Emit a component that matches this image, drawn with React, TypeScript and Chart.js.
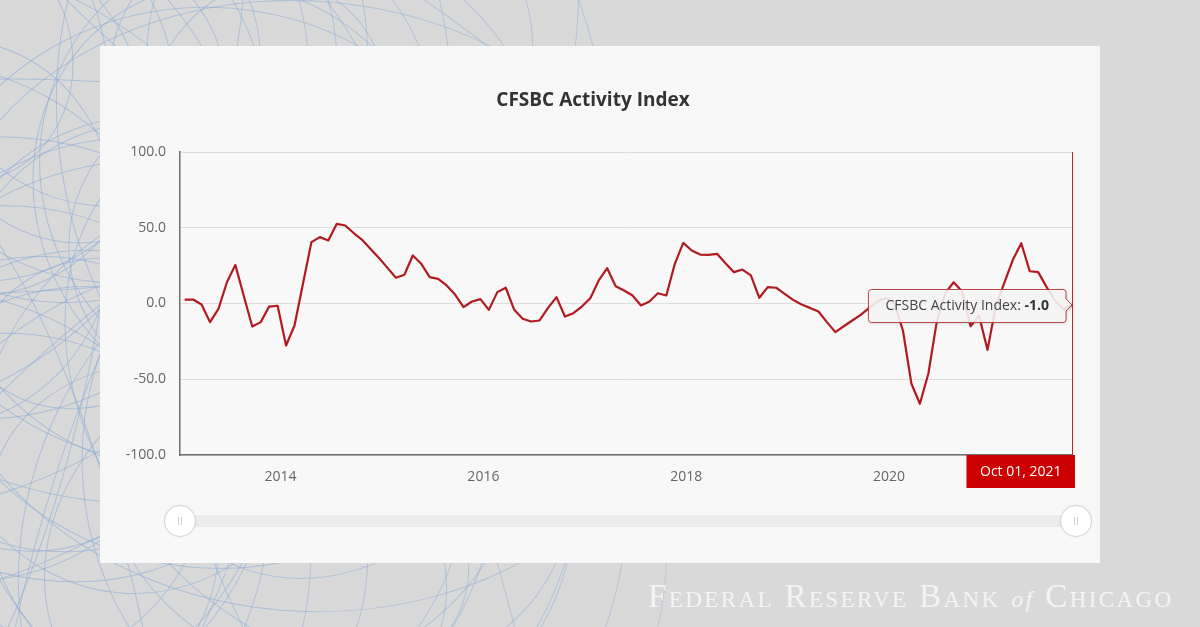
import React, { useEffect, useRef } from "react";
import { Chart, registerables } from "chart.js";

Chart.register(...registerables);

// Monthly CFSBC Activity Index, Jan 2013 through Oct 2021 (index 0 = Jan 2013)
const seriesName = "CFSBC Activity Index";
const activityIndex: number[] = [
  // 2013
  2.6, 2.6, -0.7, -12.3, -3.5, 14.0, 25.5, 5.0, -15.2, -12.3, -2.0, -1.5,
  // 2014
  -27.7, -14.5, 13.0, 40.5, 43.8, 41.6, 52.6, 51.5, 46.5, 42.0, 36.0, 30.0,
  // 2015
  23.5, 17.0, 19.0, 31.7, 26.2, 17.4, 16.3, 11.9, 5.9, -2.4, 1.3, 2.9,
  // 2016
  -4.2, 7.5, 10.4, -4.2, -10.1, -11.9, -11.2, -2.9, 4.2, -8.6, -6.4, -2.0,
  // 2017
  3.5, 15.2, 23.3, 11.4, 8.6, 5.3, -1.3, 1.3, 6.8, 5.3, 26.2, 40.0,
  // 2018
  35.0, 32.3, 32.1, 32.8, 26.6, 20.7, 22.4, 18.5, 3.8, 10.8, 10.4, 6.4,
  // 2019
  2.4, -0.7, -2.9, -5.3, -12.3, -18.9, -15.0, -11.2, -7.5, -2.9, 1.5, 3.5,
  // 2020
  0.0, -18.0, -53.0, -66.2, -46.4, -12.0, 6.8, 14.0, 8.0, -15.0, -8.0, -30.6,
  // 2021 (Jan - Oct)
  -1.3, 13.8, 28.8, 39.8, 21.3, 20.7, 10.8, 2.0, -4.0, -1.0,
];

// Year ticks sit on the January of each labelled year
const yearTickPositions = [12, 36, 60, 84];
const yearTickLabels = ["2014", "2016", "2018", "2020"];

const yAxisMin = -100;
const yAxisMax = 100;
const yAxisStep = 50;

const hoverDateLabel = "Oct 01, 2021";

const LINE_COLOR = "#b01a20";
const FONT = "'Open Sans', 'Noto Sans', sans-serif";
const TEXT_SIZE = 14;

// Crosshair, date flag and value callout for the most recent month
const lastPointCallout = {
  id: "lastPointCallout",
  beforeDatasetsDraw(chart: any) {
    const meta = chart.getDatasetMeta(0);
    const pt = meta.data[meta.data.length - 1];
    if (!pt) return;
    const { ctx, chartArea } = chart;
    const x = Math.round(pt.x) + 0.5;
    ctx.save();
    ctx.strokeStyle = "#c8232a";
    ctx.lineWidth = 1;
    ctx.beginPath();
    ctx.moveTo(x, chartArea.top);
    ctx.lineTo(x, chartArea.bottom);
    ctx.stroke();
    ctx.restore();
  },
  afterDraw(chart: any) {
    const meta = chart.getDatasetMeta(0);
    const idx = meta.data.length - 1;
    const pt = meta.data[idx];
    if (!pt) return;
    const { ctx, chartArea } = chart;
    const value = activityIndex[idx];
    ctx.save();

    // date flag under the axis
    ctx.font = `${TEXT_SIZE}px ${FONT}`;
    const dw = ctx.measureText(hoverDateLabel).width + 27;
    const dh = 33;
    const dRight = pt.x + 3;
    const dLeft = dRight - dw;
    const dTop = chartArea.bottom;
    ctx.fillStyle = "#cc0000";
    ctx.fillRect(dLeft, dTop, dw, dh);
    ctx.fillStyle = "#ffffff";
    ctx.textAlign = "center";
    ctx.textBaseline = "middle";
    ctx.fillText(hoverDateLabel, dLeft + dw / 2, dTop + dh / 2 + 1);

    // value callout to the left of the point
    const prefix = `${seriesName}: `;
    const valText = value.toFixed(1);
    ctx.font = `${TEXT_SIZE}px ${FONT}`;
    const w1 = ctx.measureText(prefix).width;
    ctx.font = `bold ${TEXT_SIZE}px ${FONT}`;
    const w2 = ctx.measureText(valText).width;
    const padX = 17;
    const bw = w1 + w2 + padX * 2;
    const bh = 33;
    const caret = 6;
    const right = pt.x - caret;
    const left = right - bw;
    const top = pt.y - bh / 2 + 1;
    const bottom = top + bh;
    const r = 3;
    const cy = pt.y;

    ctx.beginPath();
    ctx.moveTo(left + r, top);
    ctx.lineTo(right - r, top);
    ctx.arcTo(right, top, right, top + r, r);
    ctx.lineTo(right, cy - caret);
    ctx.lineTo(pt.x, cy);
    ctx.lineTo(right, cy + caret);
    ctx.lineTo(right, bottom - r);
    ctx.arcTo(right, bottom, right - r, bottom, r);
    ctx.lineTo(left + r, bottom);
    ctx.arcTo(left, bottom, left, bottom - r, r);
    ctx.lineTo(left, top + r);
    ctx.arcTo(left, top, left + r, top, r);
    ctx.closePath();

    ctx.shadowColor = "rgba(0,0,0,0.18)";
    ctx.shadowBlur = 3;
    ctx.shadowOffsetX = 1;
    ctx.shadowOffsetY = 1;
    ctx.fillStyle = "rgba(248,248,248,0.88)";
    ctx.fill();
    ctx.shadowColor = "transparent";
    ctx.strokeStyle = "#b8474a";
    ctx.lineWidth = 1;
    ctx.stroke();

    ctx.fillStyle = "#444444";
    ctx.textAlign = "left";
    ctx.textBaseline = "middle";
    ctx.font = `${TEXT_SIZE}px ${FONT}`;
    ctx.fillText(prefix, left + padX, cy + 1);
    ctx.fillStyle = "#333333";
    ctx.font = `bold ${TEXT_SIZE}px ${FONT}`;
    ctx.fillText(valText, left + padX + w1, cy + 1);
    ctx.restore();
  },
};

// Thin looping strokes of the page backdrop
function BackdropPattern() {
  const loops: React.ReactNode[] = [];
  for (let k = 0; k < 56; k++) {
    const cx = 140 + 200 * Math.cos(k * 0.73);
    const cy = 300 + 250 * Math.sin(k * 1.13);
    const rx = 130 + ((k * 61) % 320);
    const ry = 90 + ((k * 47) % 240);
    const rot = (k * 29) % 180;
    loops.push(
      <ellipse
        key={k}
        cx={cx}
        cy={cy}
        rx={rx}
        ry={ry}
        transform={`rotate(${rot} ${cx} ${cy})`}
        fill="none"
        stroke="rgba(130,165,215,0.5)"
        strokeWidth={1}
      />
    );
  }
  return (
    <svg
      width={1200}
      height={627}
      style={{ position: "absolute", left: 0, top: 0 }}
    >
      <defs>
        <linearGradient id="fadeRight" x1="0" y1="0" x2="1" y2="0">
          <stop offset="0" stopColor="#fff" stopOpacity="1" />
          <stop offset="0.5" stopColor="#fff" stopOpacity="0.8" />
          <stop offset="0.72" stopColor="#fff" stopOpacity="0" />
        </linearGradient>
        <mask id="fadeMask">
          <rect x="0" y="0" width="1200" height="627" fill="url(#fadeRight)" />
        </mask>
      </defs>
      <g mask="url(#fadeMask)">{loops}</g>
    </svg>
  );
}

export default function App() {
  const canvasRef = useRef<HTMLCanvasElement | null>(null);

  useEffect(() => {
    const canvas = canvasRef.current;
    if (!canvas) return;
    const chart = new Chart(canvas, {
      type: "line",
      data: {
        datasets: [
          {
            label: seriesName,
            data: activityIndex.map((v, i) => ({ x: i, y: v })),
            borderColor: LINE_COLOR,
            borderWidth: 2.2,
            pointRadius: 0,
            tension: 0,
            borderJoinStyle: "round",
            fill: false,
          },
        ],
      },
      options: {
        animation: false,
        responsive: false,
        devicePixelRatio: 1,
        layout: { padding: { left: 14, right: 28, top: 0, bottom: 0 } },
        plugins: {
          legend: { display: false },
          tooltip: { enabled: false },
          title: {
            display: true,
            text: seriesName,
            color: "#333333",
            font: { family: FONT, size: 19, weight: "bold", lineHeight: 1.2 },
            padding: { top: 43.6, bottom: 39.6 },
          },
        },
        scales: {
          x: {
            type: "linear",
            min: -0.55,
            max: activityIndex.length - 1,
            afterBuildTicks: (scale: any) => {
              scale.ticks = yearTickPositions.map((v) => ({ value: v }));
            },
            afterFit: (scale: any) => {
              scale.height = 108;
            },
            ticks: {
              autoSkip: false,
              maxRotation: 0,
              padding: 13.5,
              labelOffset: -5.5,
              color: "#666666",
              font: { family: FONT, size: TEXT_SIZE },
              callback: (v: any) => {
                const i = yearTickPositions.indexOf(Number(v));
                return i >= 0 ? yearTickLabels[i] : "";
              },
            },
            grid: { display: false, drawTicks: false },
            border: { display: true, color: "#6e6e6e", width: 1.5 },
          },
          y: {
            min: yAxisMin,
            max: yAxisMax,
            afterFit: (scale: any) => {
              scale.width = 66;
            },
            ticks: {
              stepSize: yAxisStep,
              padding: 14,
              color: "#666666",
              font: { family: FONT, size: TEXT_SIZE },
              callback: (v: any) => Number(v).toFixed(1),
            },
            grid: { color: "#dedede", lineWidth: 1, drawTicks: false },
            border: { display: true, color: "#6e6e6e", width: 1.5 },
          },
        },
      },
      plugins: [lastPointCallout],
    });
    return () => chart.destroy();
  }, []);

  const handle = (cx: number) => (
    <div
      style={{
        position: "absolute",
        left: cx - 16,
        top: 505,
        width: 30,
        height: 30,
        borderRadius: "50%",
        background: "#ffffff",
        border: "1px solid #d4d4d4",
        boxShadow: "0 0 2px rgba(0,0,0,0.08)",
      }}
    >
      <div style={{ position: "absolute", left: 13, top: 11, width: 1, height: 8, background: "#d0d0d0" }} />
      <div style={{ position: "absolute", left: 16, top: 11, width: 1, height: 8, background: "#d0d0d0" }} />
    </div>
  );

  return (
    <div
      style={{
        position: "fixed",
        left: 0,
        top: 0,
        width: 1200,
        height: 627,
        background: "#d9d9d9",
        overflow: "hidden",
      }}
    >
      <BackdropPattern />
      <div
        style={{
          position: "absolute",
          left: 100,
          top: 46,
          width: 1000,
          height: 517,
          background: "#f9f8f9",
        }}
      >
        <canvas ref={canvasRef} width={1000} height={517} style={{ display: "block" }} />
      </div>
      {/* range slider under the plot */}
      <div
        style={{
          position: "absolute",
          left: 180,
          top: 515,
          width: 896,
          height: 12,
          background: "#ebebeb",
        }}
      />
      {handle(180)}
      {handle(1076)}
      <div
        style={{
          position: "absolute",
          left: 648,
          top: 580,
          fontFamily: "'Liberation Serif', 'DejaVu Serif', serif",
          fontSize: 33,
          lineHeight: "33px",
          fontVariant: "small-caps",
          color: "#f4f4f4",
          whiteSpace: "nowrap",
          letterSpacing: 2.4,
        }}
      >
        Federal Reserve Bank <span style={{ fontStyle: "italic", fontVariant: "normal", fontSize: 24 }}>of</span> Chicago
      </div>
    </div>
  );
}
